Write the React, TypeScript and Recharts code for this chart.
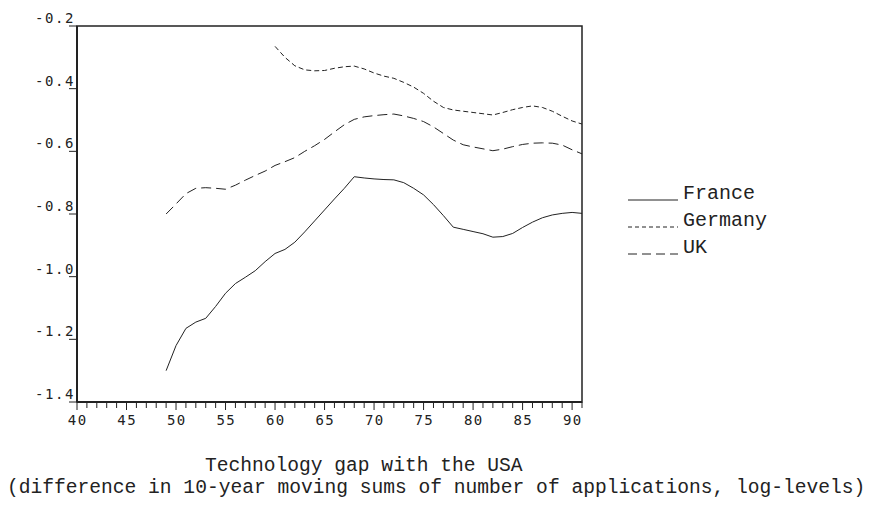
import React from "react";
import { LineChart, Line, XAxis, YAxis, ReferenceArea } from "recharts";

// years 49..91
const years = [
  49, 50, 51, 52, 53, 54, 55, 56, 57, 58, 59, 60, 61, 62, 63, 64, 65, 66, 67, 68, 69, 70,
  71, 72, 73, 74, 75, 76, 77, 78, 79, 80, 81, 82, 83, 84, 85, 86, 87, 88, 89, 90, 91,
];

const france = [
  -1.3, -1.22, -1.165, -1.145, -1.133, -1.095, -1.053, -1.022, -1.002, -0.981, -0.952,
  -0.926, -0.913, -0.89, -0.857, -0.822, -0.787, -0.752, -0.718, -0.681, -0.685, -0.688,
  -0.69, -0.691, -0.7, -0.718, -0.739, -0.77, -0.805, -0.842, -0.849, -0.856, -0.863,
  -0.874, -0.872, -0.862, -0.843, -0.826, -0.812, -0.803, -0.798, -0.795, -0.798,
];

// Germany only from 1960
const germany = [
  null, null, null, null, null, null, null, null, null, null, null,
  -0.265, -0.3, -0.327, -0.34, -0.343, -0.342, -0.335, -0.33, -0.328, -0.337, -0.35,
  -0.36, -0.367, -0.38, -0.395, -0.415, -0.44, -0.46, -0.468, -0.472, -0.476, -0.48,
  -0.484, -0.476, -0.467, -0.46, -0.455, -0.46, -0.472, -0.488, -0.503, -0.513,
];

const uk = [
  -0.8, -0.768, -0.735, -0.718, -0.716, -0.718, -0.721, -0.708, -0.692, -0.677, -0.663,
  -0.645, -0.633, -0.62, -0.6, -0.582, -0.562, -0.538, -0.515, -0.498, -0.49, -0.486,
  -0.483, -0.481, -0.487, -0.495, -0.505, -0.522, -0.543, -0.564, -0.579, -0.586, -0.592,
  -0.598, -0.593, -0.585, -0.578, -0.574, -0.573, -0.574, -0.58, -0.595, -0.608,
];

const xTicks = Array.from({ length: 52 }, (_, i) => 40 + i);
const xLabels = [40, 45, 50, 55, 60, 65, 70, 75, 80, 85, 90];
const yTicks = [-1.4, -1.2, -1.0, -0.8, -0.6, -0.4, -0.2];

const seriesList = [
  { key: "france", name: "France", dash: undefined, legendDash: undefined },
  { key: "germany", name: "Germany", dash: "5 3", legendDash: "4 3" },
  { key: "uk", name: "UK", dash: "10 5", legendDash: "9 5" },
];

const data = years.map((year, i) => ({
  year,
  france: france[i],
  germany: germany[i],
  uk: uk[i],
}));

const tickFont = "'DejaVu Sans Mono', monospace";
const textFont = "'Liberation Mono', 'Courier New', monospace";
const ink = "#222";

function XTick(props: any) {
  const { x, y, payload } = props;
  const v = payload.value;
  const major = xLabels.includes(v);
  return (
    <g>
      <line x1={x} x2={x} y1={y} y2={y + (major ? 8 : 6)} stroke={ink} strokeWidth={1} />
      {major && (
        <text
          x={x + 0.7}
          y={y + 23}
          textAnchor="middle"
          fontFamily={tickFont}
          fontSize={14}
          letterSpacing={1.4}
          fill={ink}
        >
          {v}
        </text>
      )}
    </g>
  );
}

function YTick(props: any) {
  const { x, y, payload } = props;
  return (
    <g>
      <line x1={x - 8} x2={x} y1={y} y2={y} stroke={ink} strokeWidth={1} />
      <text
        x={x - 2}
        y={y - 3}
        textAnchor="end"
        fontFamily={tickFont}
        fontSize={14}
        letterSpacing={1.6}
        fill={ink}
      >
        {Number(payload.value).toFixed(1)}
      </text>
    </g>
  );
}

function LegendBox() {
  return (
    <div
      style={{
        position: "absolute",
        left: 628,
        top: 180,
        fontFamily: textFont,
        fontSize: 20,
        color: ink,
        lineHeight: "27px",
      }}
    >
      {seriesList.map((s) => (
        <div key={s.key} style={{ display: "flex", alignItems: "center" }}>
          <svg width={55} height={27}>
            <line
              x1={0}
              x2={50}
              y1={20}
              y2={20}
              stroke={ink}
              strokeWidth={1}
              strokeDasharray={s.legendDash}
            />
          </svg>
          <span>{s.name}</span>
        </div>
      ))}
    </div>
  );
}

export default function App() {
  return (
    <div style={{ position: "absolute", left: 0, top: 0, width: 882, height: 508, background: "#fff" }}>
      <LineChart
        width={882}
        height={508}
        data={data}
        margin={{ top: 26, right: 300, bottom: 76, left: 37 }}
      >
        <XAxis
          dataKey="year"
          type="number"
          domain={[40, 91]}
          ticks={xTicks}
          interval={0}
          height={30}
          tickSize={0}
          tickMargin={0}
          tickLine={false}
          tick={<XTick />}
          axisLine={{ stroke: ink, strokeWidth: 2 }}
          allowDataOverflow
        />
        <YAxis
          type="number"
          domain={[-1.4, -0.2]}
          ticks={yTicks}
          interval={0}
          width={40}
          tickSize={0}
          tickMargin={0}
          tickLine={false}
          tick={<YTick />}
          axisLine={{ stroke: ink, strokeWidth: 2 }}
          allowDataOverflow
        />
        <ReferenceArea
          x1={40}
          x2={91}
          y1={-1.4}
          y2={-0.2}
          fill="none"
          stroke={ink}
          strokeWidth={1.5}
          ifOverflow="visible"
        />
        {seriesList.map((s) => (
          <Line
            key={s.key}
            type="linear"
            dataKey={s.key}
            name={s.name}
            stroke={ink}
            strokeWidth={1}
            strokeDasharray={s.dash}
            dot={false}
            activeDot={false}
            connectNulls={false}
            isAnimationActive={false}
          />
        ))}
      </LineChart>
      <LegendBox />
      <div
        style={{
          position: "absolute",
          left: 0,
          top: 455,
          width: 882,
          fontFamily: textFont,
          fontSize: 19.6,
          lineHeight: "22px",
          color: ink,
          whiteSpace: "pre",
        }}
      >
        <div style={{ paddingLeft: 205 }}>Technology gap with the USA</div>
        <div style={{ paddingLeft: 7 }}>
          (difference in 10-year moving sums of number of applications, log-levels)
        </div>
      </div>
    </div>
  );
}
